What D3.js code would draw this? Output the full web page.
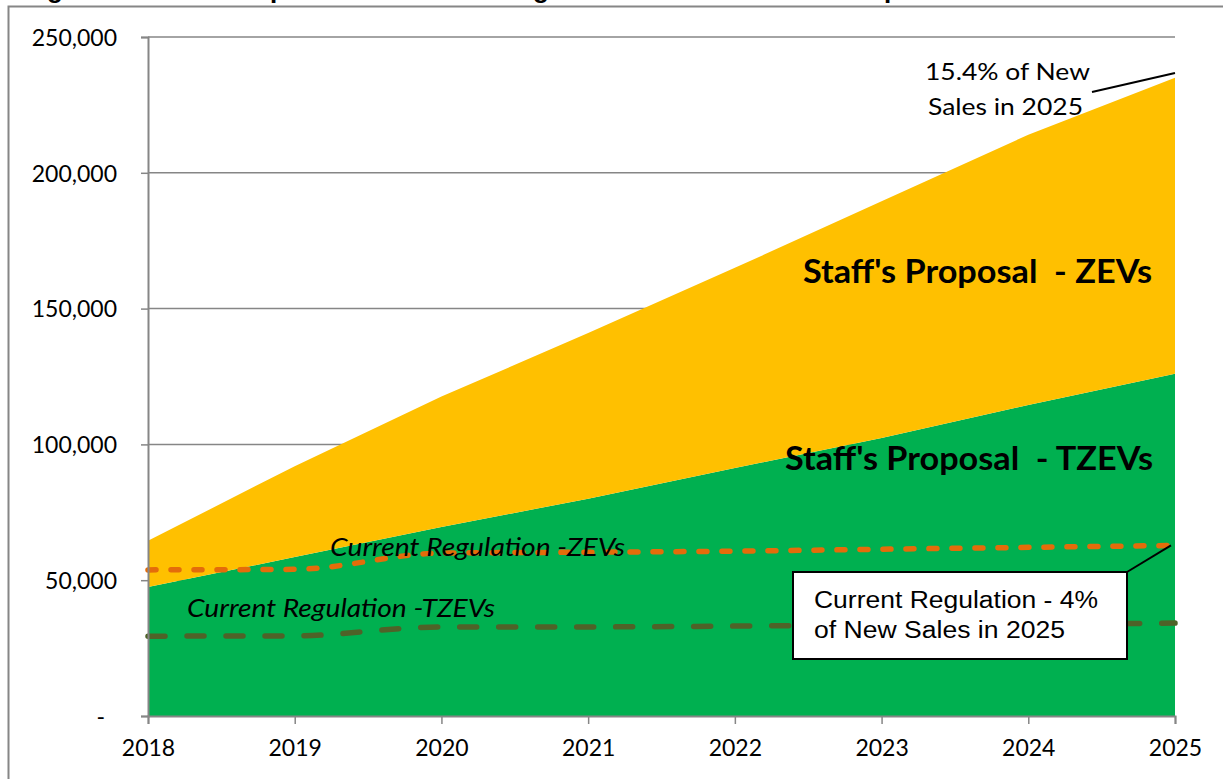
<!DOCTYPE html>
<html>
<head>
<meta charset="utf-8">
<script src="https://cdn.jsdelivr.net/npm/d3@7"></script>
<style>
  html, body { margin: 0; padding: 0; background: #fff; overflow: hidden; }
  svg { display: block; }
  text.series-label { white-space: pre; }
</style>
</head>
<body>
<div class="js-results"></div>
<script>
'use strict';

// data
const years = [2018, 2019, 2020, 2021, 2022, 2023, 2024, 2025];
const proposalTzevs = [47500, 58500, 69600, 80000, 91300, 102400, 114500, 126000];
const proposalZevs = [17000, 33500, 48000, 61000, 73700, 87100, 99500, 109000];
const currentRegZevs = [53800, 54000, 60000, 60300, 60700, 61400, 62100, 62800];
const currentRegTzevs = [29400, 29500, 32800, 32800, 33100, 33500, 33800, 34200];
const yTicks = [0, 50000, 100000, 150000, 200000, 250000];

const svgWidth = 1223;
const svgHeight = 779;
const plotLeft = 148;
const plotRight = 1175;
const plotTop = 37;
const plotBottom = 716;

const gridColor = "#868686";
const calibriLike = "Lato, 'Open Sans', sans-serif";
const arialLike = "'Liberation Sans', Arial, sans-serif";

function drawChart() {

    const svg = d3.select(".js-results")
        .append("svg")
        .attr("width", svgWidth)
        .attr("height", svgHeight);

    // title, mostly cut off at the top edge like the original
    svg.append("text")
        .text("Figure 2: Staff's Proposal and Current Regulation ZEV and TZEV Comparison")
        .attr("x", 24)
        .attr("y", -2)
        .attr("font-family", arialLike)
        .attr("font-weight", "bold")
        .attr("font-size", "26px")
        .attr("fill", "black");

    // outer chart border
    svg.append("path")
        .attr("d", `M8.5,${svgHeight + 5}V6.5H${svgWidth + 5}`)
        .attr("fill", "none")
        .attr("stroke", gridColor)
        .attr("stroke-width", 2);

    const xScale = d3.scaleLinear()
        .domain([years[0], years[years.length - 1]])
        .range([plotLeft, plotRight]);

    const yScale = d3.scaleLinear()
        .domain([0, 250000])
        .range([plotBottom, plotTop]);

    // horizontal gridlines
    svg.selectAll("line.grid")
        .data(yTicks.filter(d => d > 0))
        .enter()
        .append("line")
        .classed("grid", true)
        .attr("x1", plotLeft)
        .attr("x2", plotRight)
        .attr("y1", d => yScale(d))
        .attr("y2", d => yScale(d))
        .attr("stroke", gridColor)
        .attr("stroke-width", 1.5);

    // stacked areas: TZEVs at the bottom, ZEVs on top
    const rows = years.map((yr, i) => ({ year: yr, tzev: proposalTzevs[i], zev: proposalZevs[i] }));
    const stacked = d3.stack().keys(["tzev", "zev"])(rows);
    const areaFills = { tzev: "#00B050", zev: "#FFC000" };

    const area = d3.area()
        .x(d => xScale(d.data.year))
        .y0(d => yScale(d[0]))
        .y1(d => yScale(d[1]));

    svg.selectAll("path.layer")
        .data(stacked)
        .enter()
        .append("path")
        .classed("layer", true)
        .attr("d", area)
        .attr("fill", d => areaFills[d.key]);

    // current regulation dashed lines
    const line = d3.line()
        .x((d, i) => xScale(years[i]))
        .y(d => yScale(d))
        .curve(d3.curveMonotoneX);

    svg.append("path")
        .attr("d", line(currentRegTzevs))
        .attr("fill", "none")
        .attr("stroke", "#4F6228")
        .attr("stroke-width", 5.5)
        .attr("stroke-linecap", "round")
        .attr("stroke-dasharray", "17,22");

    svg.append("path")
        .attr("d", line(currentRegZevs))
        .attr("fill", "none")
        .attr("stroke", "#E46C0A")
        .attr("stroke-width", 5.5)
        .attr("stroke-linecap", "round")
        .attr("stroke-dasharray", "8,15");

    // y axis
    const yAxis = svg.append("g")
        .attr("transform", `translate(${plotLeft},0)`)
        .call(d3.axisLeft(yScale)
            .tickValues(yTicks)
            .tickSize(7)
            .tickPadding(24)
            .tickFormat(d => d === 0 ? "-" : d3.format(",")(d)));

    yAxis.select(".domain").attr("stroke", gridColor).attr("stroke-width", 2);
    yAxis.selectAll(".tick line").attr("stroke", gridColor).attr("stroke-width", 1.5);
    yAxis.selectAll(".tick text")
        .attr("font-family", calibriLike)
        .attr("font-size", "23px")
        .attr("fill", "black")
        .attr("dy", "0.36em")
        .attr("dx", d => d === 0 ? -12 : 0);

    // x axis
    const xAxis = svg.append("g")
        .attr("transform", `translate(0,${plotBottom})`)
        .call(d3.axisBottom(xScale)
            .tickValues(years)
            .tickSize(8)
            .tickPadding(16)
            .tickFormat(d3.format("d")));

    xAxis.select(".domain").attr("stroke", gridColor).attr("stroke-width", 2);
    xAxis.selectAll(".tick line").attr("stroke", gridColor).attr("stroke-width", 1.5);
    xAxis.selectAll(".tick text")
        .attr("font-family", calibriLike)
        .attr("font-size", "23px")
        .attr("fill", "black");

    // series labels
    const labels = [
        { text: "Staff's Proposal  - ZEVs", x: 803, y: 283, w: 349, size: 33, weight: "bold", style: "normal" },
        { text: "Staff's Proposal  - TZEVs", x: 785, y: 470, w: 368, size: 33, weight: "bold", style: "normal" },
        { text: "Current Regulation -ZEVs", x: 330, y: 556, w: 295, size: 25, weight: "normal", style: "italic" },
        { text: "Current Regulation -TZEVs", x: 187, y: 617, w: 308, size: 25, weight: "normal", style: "italic" }
    ];

    svg.selectAll("text.series-label")
        .data(labels)
        .enter()
        .append("text")
        .classed("series-label", true)
        .text(d => d.text)
        .attr("x", d => d.x)
        .attr("y", d => d.y)
        .attr("textLength", d => d.w)
        .attr("lengthAdjust", "spacingAndGlyphs")
        .attr("font-family", calibriLike)
        .attr("font-size", d => d.size + "px")
        .attr("font-weight", d => d.weight)
        .attr("font-style", d => d.style)
        .attr("fill", "black");

    // 15.4% callout
    svg.append("line")
        .attr("x1", 1092).attr("y1", 92)
        .attr("x2", xScale(2025)).attr("y2", 73)
        .attr("stroke", "black")
        .attr("stroke-width", 2);

    svg.append("text")
        .text("15.4% of New")
        .attr("x", 925).attr("y", 80)
        .attr("textLength", 165)
        .attr("lengthAdjust", "spacingAndGlyphs")
        .attr("font-family", calibriLike)
        .attr("font-size", "24px")
        .attr("fill", "black");

    svg.append("text")
        .text("Sales in 2025")
        .attr("x", 928).attr("y", 115)
        .attr("textLength", 155)
        .attr("lengthAdjust", "spacingAndGlyphs")
        .attr("font-family", calibriLike)
        .attr("font-size", "24px")
        .attr("fill", "black");

    // 4% callout box
    svg.append("line")
        .attr("x1", 1127).attr("y1", 572)
        .attr("x2", 1171).attr("y2", yScale(currentRegZevs[currentRegZevs.length - 1]))
        .attr("stroke", "black")
        .attr("stroke-width", 2);

    svg.append("rect")
        .attr("x", 793).attr("y", 572)
        .attr("width", 334).attr("height", 87)
        .attr("fill", "white")
        .attr("stroke", "black")
        .attr("stroke-width", 2);

    svg.append("text")
        .text("Current Regulation - 4%")
        .attr("x", 814).attr("y", 608)
        .attr("textLength", 284)
        .attr("lengthAdjust", "spacingAndGlyphs")
        .attr("font-family", arialLike)
        .attr("font-size", "23px")
        .attr("fill", "black");

    svg.append("text")
        .text("of New Sales in 2025")
        .attr("x", 814).attr("y", 638)
        .attr("textLength", 251)
        .attr("lengthAdjust", "spacingAndGlyphs")
        .attr("font-family", arialLike)
        .attr("font-size", "23px")
        .attr("fill", "black");
}

drawChart();
</script>
</body>
</html>
